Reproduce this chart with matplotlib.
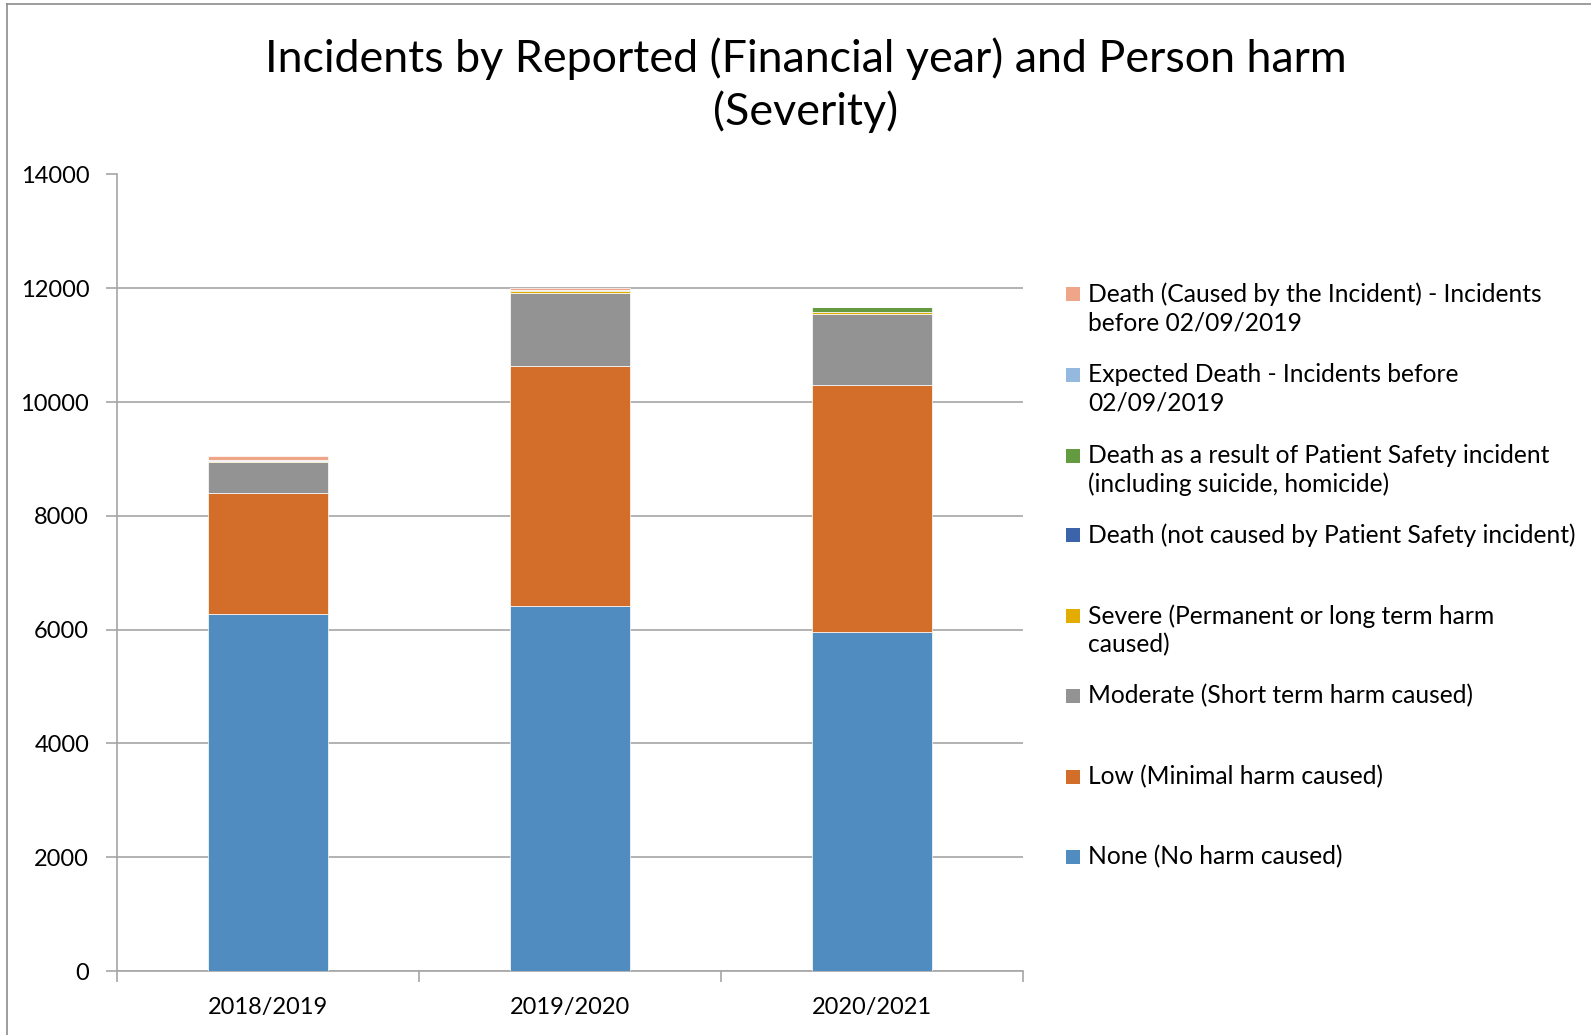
import numpy as np
import matplotlib
matplotlib.use("Agg")
import matplotlib.pyplot as plt
from matplotlib.lines import Line2D
from matplotlib.patches import Rectangle

plt.rcParams['font.family'] = ['Lato', 'DejaVu Sans']

years = ["2018/2019", "2019/2020", "2020/2021"]

# stacked bottom -> top
none_harm = [6280, 6420, 5960]
low_harm = [2120, 4220, 4335]
moderate_harm = [550, 1280, 1258]
severe_harm = [15, 25, 25]
death_not_psi = [0, 5, 5]
death_psi = [5, 25, 95]
expected_death = [5, 3, 0]
death_caused = [80, 25, 0]

series = [
    ("None (No harm caused)", none_harm, "#508CBF"),
    ("Low (Minimal harm caused)", low_harm, "#D26D2A"),
    ("Moderate (Short term harm caused)", moderate_harm, "#939393"),
    ("Severe (Permanent or long term harm\ncaused)", severe_harm, "#E2AC00"),
    ("Death (not caused by Patient Safety incident)", death_not_psi, "#3C64AA"),
    ("Death as a result of Patient Safety incident\n(including suicide, homicide)", death_psi, "#659B40"),
    ("Expected Death - Incidents before\n02/09/2019", expected_death, "#95B8DF"),
    ("Death (Caused by the Incident) - Incidents\nbefore 02/09/2019", death_caused, "#EFA688"),
]

W, H = 1591, 1035
fig = plt.figure(figsize=(W / 100, H / 100), dpi=100)
ax = fig.add_axes([117 / W, 1 - 971 / H, (1023 - 117) / W, (971 - 174.5) / H])

x = np.arange(len(years))
bottom = np.zeros(len(years))
for label, vals, color in series:
    ax.bar(x, vals, width=0.4, bottom=bottom, color=color,
           edgecolor="white", linewidth=0.5, zorder=3)
    bottom += np.array(vals)

ax.set_xlim(-0.5, 2.5)
ax.set_ylim(0, 14000)
ax.set_yticks(np.arange(0, 14001, 2000))
ax.yaxis.grid(True, color="#A6A6A6", linewidth=1.2, zorder=0)
ax.tick_params(axis="y", length=8, width=1.2, color="#A6A6A6", pad=12,
               labelsize=17)
ax.set_xticks(x)
ax.set_xticklabels(years)
ax.tick_params(axis="x", which="major", length=0, pad=19, labelsize=17)
ax.set_xticks([-0.5, 0.5, 1.5, 2.5], minor=True)
ax.tick_params(axis="x", which="minor", length=8, width=1.2, color="#A6A6A6",
               direction="out")
for s in ["top", "right"]:
    ax.spines[s].set_visible(False)
for s in ["left", "bottom"]:
    ax.spines[s].set_color("#A6A6A6")
    ax.spines[s].set_linewidth(1.2)

fig.text(806 / W, 1 - 85 / H, "Incidents by Reported (Financial year) and Person harm\n(Severity)",
         ha="center", va="center", fontsize=32.2, linespacing=1.3)

# legend, Excel style
leg_y = [294, 374.5, 455.6, 535, 616, 696, 777, 857]
for (label, vals, color), yy in zip(series[::-1], leg_y):
    fig.patches.append(Rectangle((1066 / W, 1 - (yy + 7) / H), 14 / W, 14 / H,
                                 transform=fig.transFigure, facecolor=color,
                                 edgecolor="none"))
    fig.text(1088 / W, 1 - (yy - 12) / H, label, ha="left", va="top",
             fontsize=17.7, linespacing=1.3)

# chart frame (top and left)
fig.add_artist(Line2D([7 / W, 7 / W], [0, 1 - 4 / H], color="#8C8C8C", linewidth=1.2))
fig.add_artist(Line2D([7 / W, 1], [1 - 4 / H, 1 - 4 / H], color="#8C8C8C", linewidth=1.2))

fig.savefig("out.png", dpi=100)
